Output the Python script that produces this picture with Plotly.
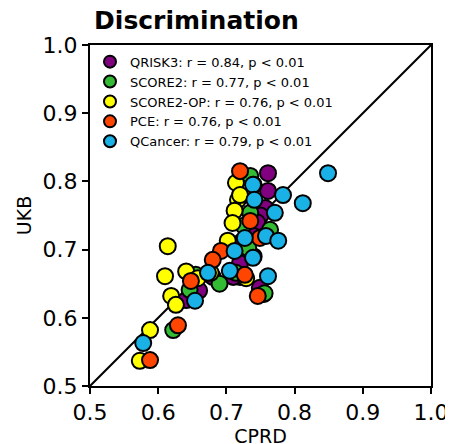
import plotly.graph_objects as go

names = ["QRISK3: r = 0.84, p < 0.01", "SCORE2: r = 0.77, p < 0.01", "SCORE2-OP: r = 0.76, p < 0.01",
         "PCE: r = 0.76, p < 0.01", "QCancer: r = 0.79, p < 0.01"]
colors = ["#800080", "#33bb33", "#ffff00", "#ff4500", "#1ab2e6"]

qrisk_x = [0.761, 0.761, 0.757, 0.75, 0.745, 0.73, 0.74, 0.72, 0.74, 0.72, 0.72, 0.749, 0.755, 0.641, 0.66, 0.71, 0.68]
qrisk_y = [0.812, 0.786, 0.761, 0.75, 0.74, 0.73, 0.72, 0.71, 0.69, 0.68, 0.66, 0.644, 0.635, 0.626, 0.64, 0.66, 0.66]
score2_x = [0.735, 0.735, 0.764, 0.732, 0.714, 0.69, 0.655, 0.622, 0.756, 0.646, 0.74, 0.725]
score2_y = [0.808, 0.754, 0.729, 0.702, 0.666, 0.65, 0.663, 0.582, 0.636, 0.641, 0.795, 0.735]
op_x = [0.714, 0.717, 0.712, 0.709, 0.702, 0.614, 0.61, 0.641, 0.677, 0.619, 0.626, 0.588, 0.573, 0.729, 0.658, 0.72]
op_y = [0.798, 0.773, 0.757, 0.739, 0.713, 0.705, 0.661, 0.668, 0.666, 0.632, 0.619, 0.582, 0.537, 0.658, 0.658, 0.78]
pce_x = [0.72, 0.735, 0.749, 0.692, 0.68, 0.648, 0.629, 0.588, 0.746, 0.727]
pce_y = [0.815, 0.742, 0.717, 0.698, 0.685, 0.654, 0.589, 0.538, 0.632, 0.663]
qc_x = [0.849, 0.739, 0.783, 0.812, 0.741, 0.771, 0.727, 0.758, 0.776, 0.712, 0.739, 0.705, 0.761, 0.654, 0.578, 0.673]
qc_y = [0.812, 0.795, 0.78, 0.768, 0.773, 0.754, 0.717, 0.72, 0.713, 0.698, 0.688, 0.669, 0.661, 0.625, 0.563, 0.666]

xs = [qrisk_x, score2_x, op_x, pce_x, qc_x]
ys = [qrisk_y, score2_y, op_y, pce_y, qc_y]

fig = go.Figure()
fig.add_trace(go.Scatter(x=[0.5, 1.0], y=[0.5, 1.0], mode="lines", line=dict(color="black", width=2),
                         showlegend=False, hoverinfo="skip"))
for n, c, x, y in zip(names, colors, xs, ys):
    fig.add_trace(go.Scatter(x=x, y=y, mode="markers", name=n,
                             marker=dict(size=16, color=c, line=dict(color="black", width=2))))

axis = dict(range=[0.5, 1.0], tickvals=[0.5, 0.6, 0.7, 0.8, 0.9, 1.0], ticktext=["0.5", "0.6", "0.7", "0.8", "0.9", "1.0"],
            showline=True, linecolor="black", linewidth=2, mirror=True, ticks="outside", ticklen=6,
            tickwidth=2, tickcolor="black", showgrid=False, zeroline=False, automargin=False,
            tickfont=dict(size=22, color="black"))
fig.update_layout(
    width=453, height=444, margin=dict(l=82, r=30, t=37, b=66),
    paper_bgcolor="white", plot_bgcolor="white",
    font=dict(family="DejaVu Sans", color="black"),
    title=dict(text="<b>Discrimination</b>", x=0.19, xref="container", xanchor="left", y=0.993, yanchor="top",
               font=dict(size=25, color="black"), automargin=False),
    xaxis=dict(axis, title=dict(text="CPRD", font=dict(size=19), standoff=2)),
    yaxis=dict(axis, title=dict(text="UKB", font=dict(size=19), standoff=6)),
    legend=dict(x=0.0, y=0.995, xanchor="left", yanchor="top", bgcolor="rgba(0,0,0,0)",
                font=dict(size=13), itemsizing="constant", tracegroupgap=0),
)
fig.write_html("out.html")
